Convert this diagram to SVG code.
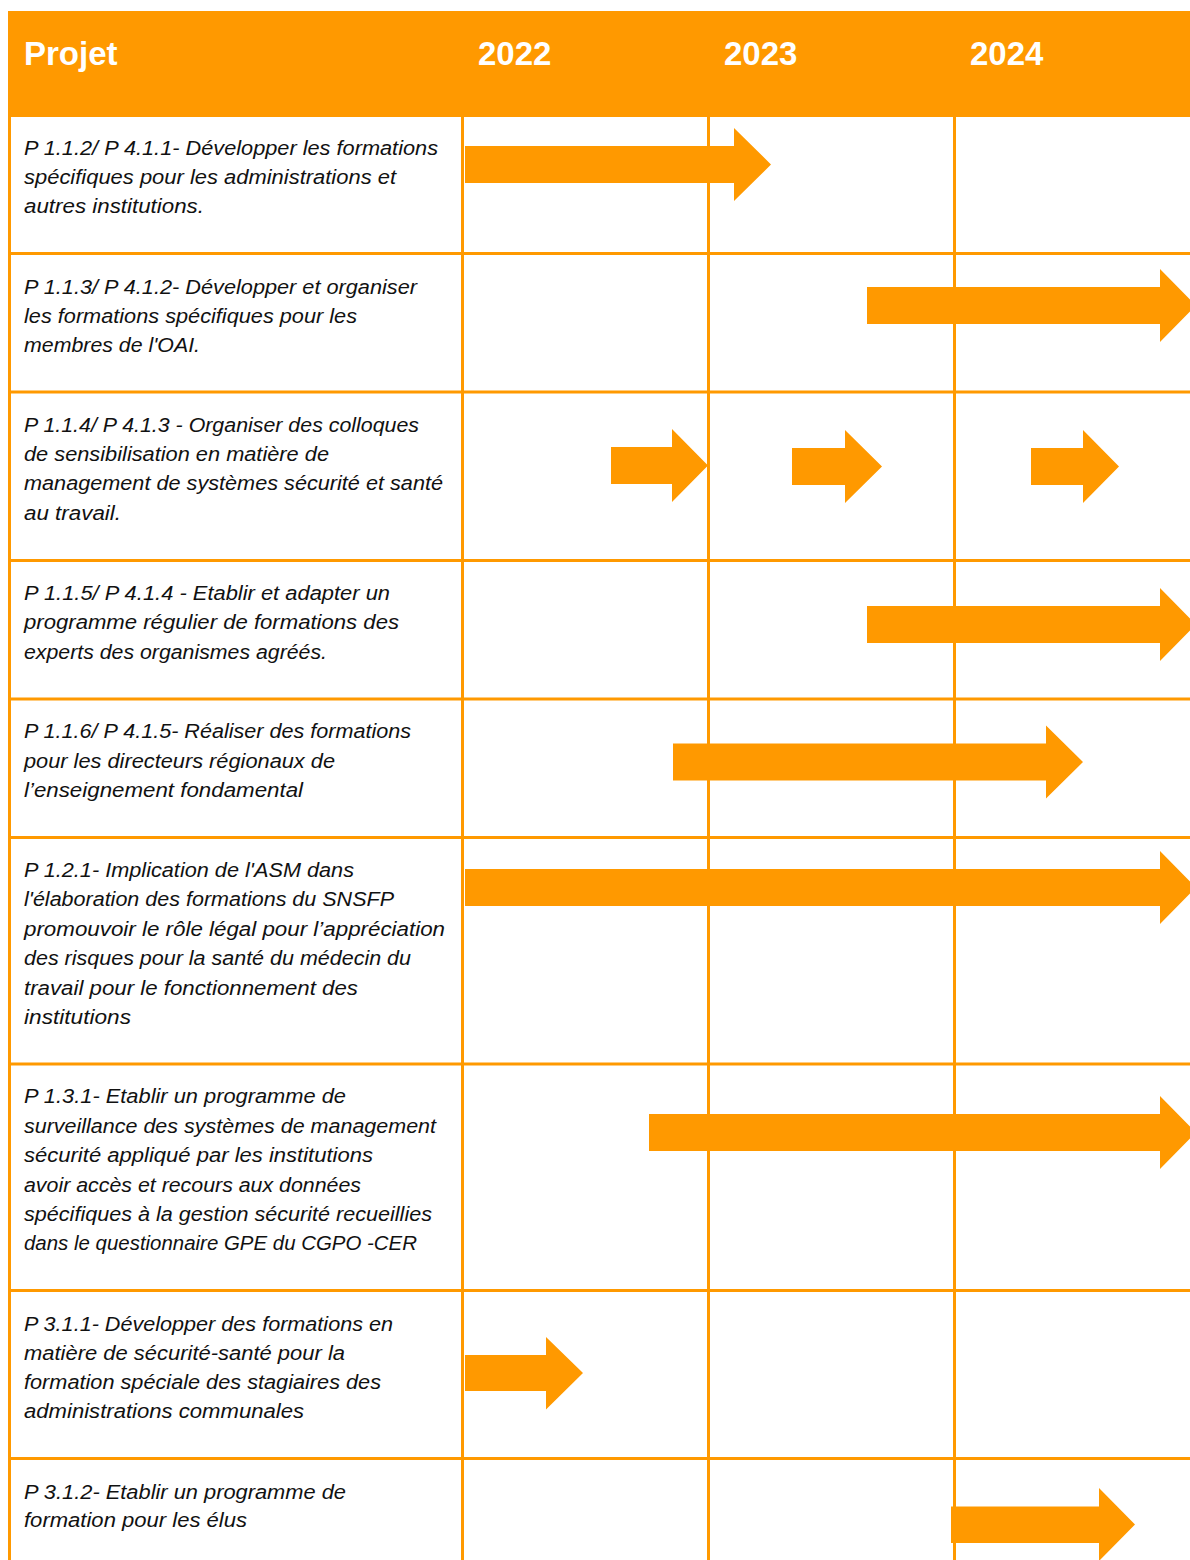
<svg xmlns="http://www.w3.org/2000/svg" width="1190" height="1560" viewBox="0 0 1190 1560">
<style>
.hd{font-family:"Liberation Sans",Arial,sans-serif;font-weight:bold;font-size:33px;fill:#ffffff}
.tx{font-family:"Liberation Sans",Arial,sans-serif;font-style:italic;font-size:20px;fill:#111111}
.grid line{stroke:#FF9900;stroke-width:3}
.bar{fill:#FF9900}
</style>
<rect width="1190" height="1560" fill="#ffffff"/>
<g id="header">
<rect x="8" y="11" width="1182" height="106" fill="#FF9900"/>
<text class="hd" x="24" y="65">Projet</text>
<text class="hd" x="478" y="65">2022</text>
<text class="hd" x="724" y="65">2023</text>
<text class="hd" x="970" y="65">2024</text>
</g>
<g class="grid" id="grid">
<line x1="9.5" y1="116" x2="9.5" y2="1560"/>
<line x1="462.5" y1="116" x2="462.5" y2="1560"/>
<line x1="708.5" y1="116" x2="708.5" y2="1560"/>
<line x1="954.5" y1="116" x2="954.5" y2="1560"/>
<line x1="8" y1="253.5" x2="1190" y2="253.5"/>
<line x1="8" y1="392" x2="1190" y2="392"/>
<line x1="8" y1="560.5" x2="1190" y2="560.5"/>
<line x1="8" y1="699" x2="1190" y2="699"/>
<line x1="8" y1="837.5" x2="1190" y2="837.5"/>
<line x1="8" y1="1064" x2="1190" y2="1064"/>
<line x1="8" y1="1290.5" x2="1190" y2="1290.5"/>
<line x1="8" y1="1458.5" x2="1190" y2="1458.5"/>
</g>
<g id="bars">
<polygon class="bar" points="465,146 734,146 734,128 771,164.5 734,201 734,183 465,183"/>
<polygon class="bar" points="867,287 1160,287 1160,269 1196,305.5 1160,342 1160,324 867,324"/>
<polygon class="bar" points="611,447 672,447 672,429 708,465.5 672,502 672,484 611,484"/>
<polygon class="bar" points="792,448 845,448 845,430 882,466.5 845,503 845,485 792,485"/>
<polygon class="bar" points="1031,448 1083,448 1083,430 1119,466.5 1083,503 1083,485 1031,485"/>
<polygon class="bar" points="867,606 1160,606 1160,588 1196,624.5 1160,661 1160,643 867,643"/>
<polygon class="bar" points="673,743.5 1046,743.5 1046,725.5 1083,762 1046,798.5 1046,780.5 673,780.5"/>
<polygon class="bar" points="465,869 1160,869 1160,851 1196,887.5 1160,924 1160,906 465,906"/>
<polygon class="bar" points="649,1114 1160,1114 1160,1096 1196,1132.5 1160,1169 1160,1151 649,1151"/>
<polygon class="bar" points="465,1355 546,1355 546,1337 583,1373 546,1409.5 546,1391 465,1391"/>
<polygon class="bar" points="951,1506.5 1099,1506.5 1099,1488 1135,1524.5 1099,1561 1099,1543 951,1543"/>
</g>
<g id="row1">
<text class="tx" x="24" y="155" textLength="414" lengthAdjust="spacingAndGlyphs">P 1.1.2/ P 4.1.1- Développer les formations</text>
<text class="tx" x="24" y="184" textLength="372" lengthAdjust="spacingAndGlyphs">spécifiques pour les administrations et</text>
<text class="tx" x="24" y="213" textLength="180" lengthAdjust="spacingAndGlyphs">autres institutions.</text>
</g>
<g id="row2">
<text class="tx" x="24" y="294" textLength="393" lengthAdjust="spacingAndGlyphs">P 1.1.3/ P 4.1.2- Développer et organiser</text>
<text class="tx" x="24" y="323" textLength="333" lengthAdjust="spacingAndGlyphs">les formations spécifiques pour les</text>
<text class="tx" x="24" y="352" textLength="176" lengthAdjust="spacingAndGlyphs">membres de l'OAI.</text>
</g>
<g id="row3">
<text class="tx" x="24" y="432" textLength="395" lengthAdjust="spacingAndGlyphs">P 1.1.4/ P 4.1.3 - Organiser des colloques</text>
<text class="tx" x="24" y="461" textLength="305" lengthAdjust="spacingAndGlyphs">de sensibilisation en matière de</text>
<text class="tx" x="24" y="490" textLength="419" lengthAdjust="spacingAndGlyphs">management de systèmes sécurité et santé</text>
<text class="tx" x="24" y="520" textLength="97" lengthAdjust="spacingAndGlyphs">au travail.</text>
</g>
<g id="row4">
<text class="tx" x="24" y="600" textLength="366" lengthAdjust="spacingAndGlyphs">P 1.1.5/ P 4.1.4 - Etablir et adapter un</text>
<text class="tx" x="24" y="629" textLength="375" lengthAdjust="spacingAndGlyphs">programme régulier de formations des</text>
<text class="tx" x="24" y="659" textLength="303" lengthAdjust="spacingAndGlyphs">experts des organismes agréés.</text>
</g>
<g id="row5">
<text class="tx" x="24" y="738" textLength="387" lengthAdjust="spacingAndGlyphs">P 1.1.6/ P 4.1.5- Réaliser des formations</text>
<text class="tx" x="24" y="768" textLength="311" lengthAdjust="spacingAndGlyphs">pour les directeurs régionaux de</text>
<text class="tx" x="24" y="797" textLength="279" lengthAdjust="spacingAndGlyphs">l’enseignement fondamental</text>
</g>
<g id="row6">
<text class="tx" x="24" y="877" textLength="330" lengthAdjust="spacingAndGlyphs">P 1.2.1- Implication de l'ASM dans</text>
<text class="tx" x="24" y="906" textLength="370" lengthAdjust="spacingAndGlyphs">l'élaboration des formations du SNSFP</text>
<text class="tx" x="24" y="936" textLength="421" lengthAdjust="spacingAndGlyphs">promouvoir le rôle légal pour l’appréciation</text>
<text class="tx" x="24" y="965" textLength="387" lengthAdjust="spacingAndGlyphs">des risques pour la santé du médecin du</text>
<text class="tx" x="24" y="995" textLength="334" lengthAdjust="spacingAndGlyphs">travail pour le fonctionnement des</text>
<text class="tx" x="24" y="1024" textLength="107" lengthAdjust="spacingAndGlyphs">institutions</text>
</g>
<g id="row7">
<text class="tx" x="24" y="1103" textLength="322" lengthAdjust="spacingAndGlyphs">P 1.3.1- Etablir un programme de</text>
<text class="tx" x="24" y="1133" textLength="412" lengthAdjust="spacingAndGlyphs">surveillance des systèmes de management</text>
<text class="tx" x="24" y="1162" textLength="349" lengthAdjust="spacingAndGlyphs">sécurité appliqué par les institutions</text>
<text class="tx" x="24" y="1192" textLength="337" lengthAdjust="spacingAndGlyphs">avoir accès et recours aux données</text>
<text class="tx" x="24" y="1221" textLength="408" lengthAdjust="spacingAndGlyphs">spécifiques à la gestion sécurité recueillies</text>
<text class="tx" x="24" y="1250" textLength="393" lengthAdjust="spacingAndGlyphs">dans le questionnaire GPE du CGPO -CER</text>
</g>
<g id="row8">
<text class="tx" x="24" y="1331" textLength="369" lengthAdjust="spacingAndGlyphs">P 3.1.1- Développer des formations en</text>
<text class="tx" x="24" y="1360" textLength="321" lengthAdjust="spacingAndGlyphs">matière de sécurité-santé pour la</text>
<text class="tx" x="24" y="1389" textLength="357" lengthAdjust="spacingAndGlyphs">formation spéciale des stagiaires des</text>
<text class="tx" x="24" y="1418" textLength="280" lengthAdjust="spacingAndGlyphs">administrations communales</text>
</g>
<g id="row9">
<text class="tx" x="24" y="1499" textLength="322" lengthAdjust="spacingAndGlyphs">P 3.1.2- Etablir un programme de</text>
<text class="tx" x="24" y="1527" textLength="223" lengthAdjust="spacingAndGlyphs">formation pour les élus</text>
</g>
</svg>
